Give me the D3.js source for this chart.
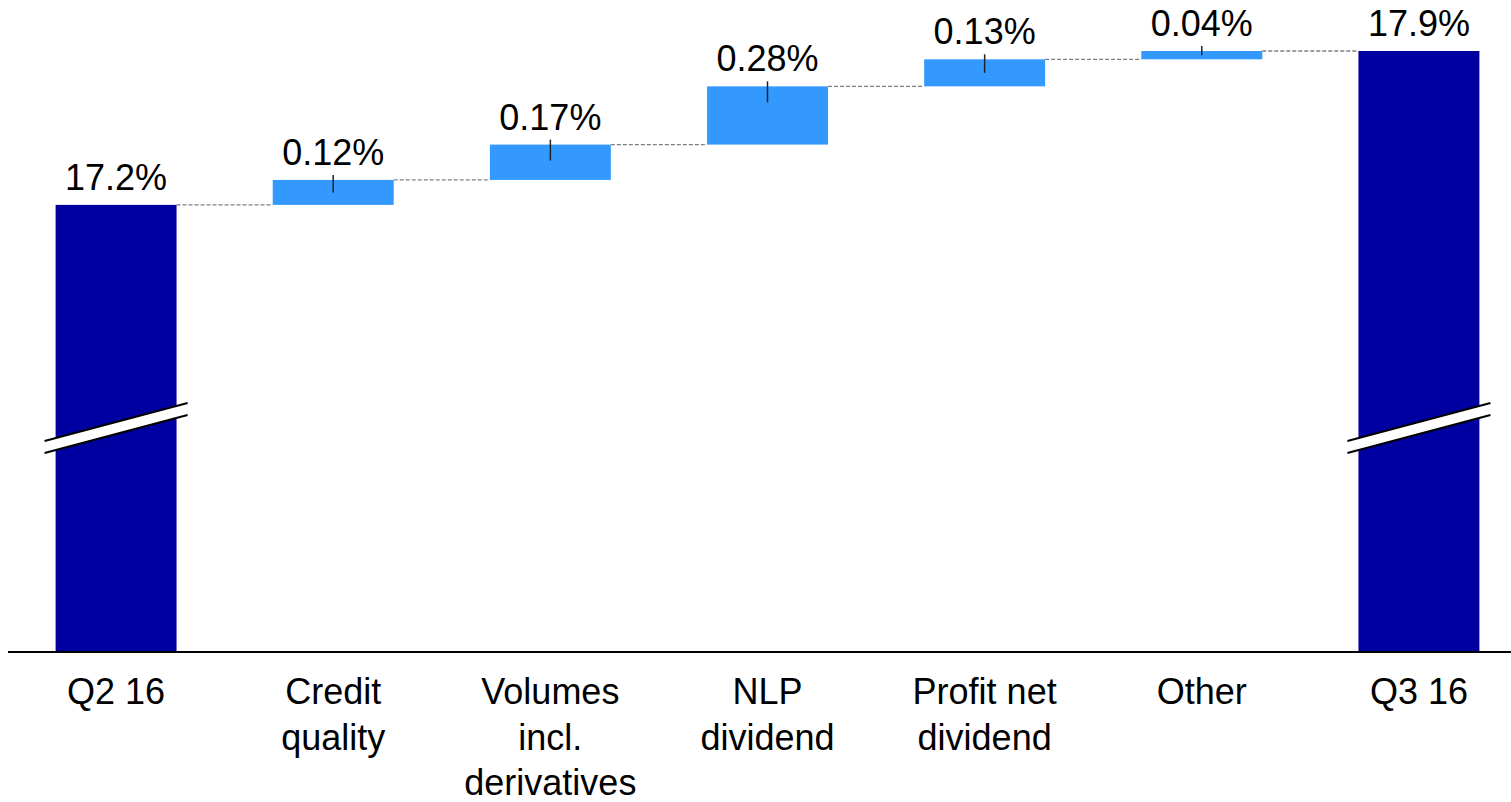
<!DOCTYPE html>
<html>
<head>
<meta charset="utf-8">
<script src="https://cdn.jsdelivr.net/npm/d3@7"></script>
<style>
  body { margin: 0; background: #fff; }
  #chart { width: 1511px; height: 802px; }
  text { font-family: "Liberation Sans", Arial, sans-serif; }
</style>
</head>
<body>
<div id="chart"></div>
<script>
// data
const categories = ['Q2 16', 'Credit quality', 'Volumes incl. derivatives', 'NLP dividend', 'Profit net dividend', 'Other', 'Q3 16'];
const categoryLines = [['Q2 16'], ['Credit', 'quality'], ['Volumes', 'incl.', 'derivatives'], ['NLP', 'dividend'], ['Profit net', 'dividend'], ['Other'], ['Q3 16']];
const startValue = 17.2;
const endValue = 17.9;
const deltas = [0.12, 0.17, 0.28, 0.13, 0.04];
const valueLabels = ['17.2%', '0.12%', '0.17%', '0.28%', '0.13%', '0.04%', '17.9%'];
const axisBreakValue = 15.05;

const width = 1511, height = 802;
const totalColor = '#0000A0';
const deltaColor = '#3399FF';

// build waterfall steps
let running = startValue;
const steps = [{ name: categories[0], y0: axisBreakValue, y1: startValue, total: true, label: valueLabels[0] }];
deltas.forEach((d, i) => {
  steps.push({ name: categories[i + 1], y0: running, y1: running + d, total: false, label: valueLabels[i + 1] });
  running += d;
});
// end bar drawn up to the accumulated level so the connector stays flat
steps.push({ name: categories[6], y0: axisBreakValue, y1: running, total: true, label: valueLabels[6], value: endValue });

const svg = d3.select('#chart')
  .append('svg')
  .attr('width', width)
  .attr('height', height);

const x = d3.scaleBand()
  .domain(categories)
  .range([7.5, 1527.5])
  .paddingInner(0.443)
  .paddingOuter(0.2215);

const baseline = 652;
const y = d3.scaleLinear()
  .domain([axisBreakValue, running])
  .range([baseline, 51]);

// dashed connectors
svg.append('g')
  .selectAll('line')
  .data(steps.slice(0, -1))
  .join('line')
  .attr('x1', d => x(d.name) + x.bandwidth())
  .attr('x2', (d, i) => x(steps[i + 1].name))
  .attr('y1', d => y(d.y1))
  .attr('y2', d => y(d.y1))
  .attr('stroke', '#808080')
  .attr('stroke-width', 1.3)
  .attr('stroke-dasharray', '4,2');

// bars
svg.append('g')
  .selectAll('rect')
  .data(steps)
  .join('rect')
  .attr('x', d => x(d.name))
  .attr('width', x.bandwidth())
  .attr('y', d => y(Math.max(d.y0, d.y1)))
  .attr('height', d => Math.abs(y(d.y0) - y(d.y1)))
  .attr('fill', d => d.total ? totalColor : deltaColor);

// small ticks inside delta bars
svg.append('g')
  .selectAll('line')
  .data(steps.filter(d => !d.total))
  .join('line')
  .attr('x1', d => x(d.name) + x.bandwidth() / 2)
  .attr('x2', d => x(d.name) + x.bandwidth() / 2)
  .attr('y1', d => y(d.y1) - 5)
  .attr('y2', d => y(d.y1) + Math.min((y(d.y0) - y(d.y1)) / 2, 16))
  .attr('stroke', '#222')
  .attr('stroke-width', 1.5);

// axis break marks on total bars
const breaks = svg.append('g');
steps.filter(d => d.total).forEach(d => {
  const cx = x(d.name) + x.bandwidth() / 2;
  const x0 = cx - 71.5, x1 = cx + 71.5;
  breaks.append('polygon')
    .attr('points', `${x0},441 ${x1},403 ${x1},415 ${x0},453`)
    .attr('fill', '#fff');
  [[441, 403], [453, 415]].forEach(([a, b]) => {
    breaks.append('line')
      .attr('x1', x0).attr('y1', a)
      .attr('x2', x1).attr('y2', b)
      .attr('stroke', '#000')
      .attr('stroke-width', 2);
  });
});

// value labels
svg.append('g')
  .selectAll('text')
  .data(steps)
  .join('text')
  .attr('x', d => x(d.name) + x.bandwidth() / 2)
  .attr('y', d => y(d.y1) - 15)
  .attr('text-anchor', 'middle')
  .attr('font-size', '36px')
  .attr('fill', '#000')
  .text(d => d.label);

// x axis line
svg.append('line')
  .attr('x1', 8)
  .attr('x2', width)
  .attr('y1', baseline)
  .attr('y2', baseline)
  .attr('stroke', '#000')
  .attr('stroke-width', 2);

// category labels
const catLabels = svg.append('g')
  .selectAll('text')
  .data(categories)
  .join('text')
  .attr('x', d => x(d) + x.bandwidth() / 2)
  .attr('y', 704)
  .attr('text-anchor', 'middle')
  .attr('font-size', '36px')
  .attr('fill', '#000');

catLabels.each(function(d, i) {
  d3.select(this)
    .selectAll('tspan')
    .data(categoryLines[i])
    .join('tspan')
    .attr('x', x(d) + x.bandwidth() / 2)
    .attr('dy', (t, j) => j === 0 ? 0 : 45.5)
    .text(t => t);
});
</script>
</body>
</html>
